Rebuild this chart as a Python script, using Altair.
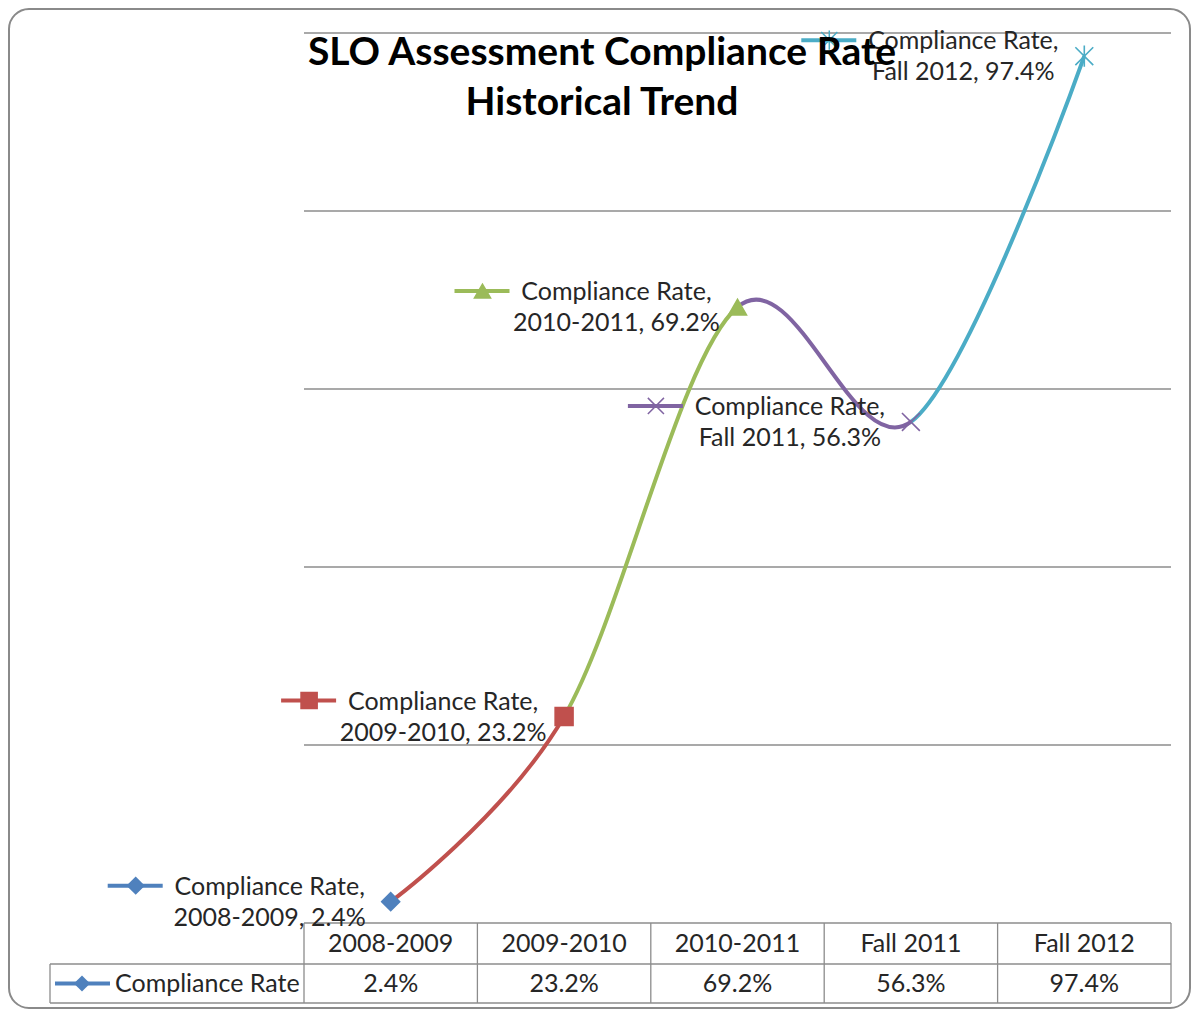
import altair as alt
import pandas as pd

# ---------------- data ----------------
categories = ["2008-2009", "2009-2010", "2010-2011", "Fall 2011", "Fall 2012"]
rates = [2.4, 23.2, 69.2, 56.3, 97.4]
series_name = "Compliance Rate"
point_colors = ["#4F81BD", "#C0504D", "#9BBB59", "#8064A2", "#4BACC6"]
X_PATH = "M-1,-1L1,1M-1,1L1,-1"
STAR_PATH = "M-1,-1L1,1M-1,1L1,-1M0,-1.2L0,1.2"
point_shapes = ["diamond", "square", "triangle-up", X_PATH, STAR_PATH]
y_ticks = [0, 20, 40, 60, 80, 100]
title_lines = ["SLO Assessment Compliance Rate", "Historical Trend"]

FONT = "Lato"
TXT = "#262626"
GRID = "#8c8c8c"
W, H = 867, 890
FS = 25
ROW1, ROW2 = 931, 970      # table row separators (plot-relative)

n = len(categories)
df = pd.DataFrame({"cat": categories, "idx": list(range(n)), "rate": rates})
df["label"] = [f"{series_name},\n{c}, {v:.1f}%" for c, v in zip(categories, rates)]
df["val"] = [f"{v:.1f}%" for v in rates]
bounds_df = pd.DataFrame({"b": [i - 0.5 for i in range(n + 1)]})
grid_df = pd.DataFrame({"t": y_ticks})
one = pd.DataFrame({"k": [0]})

xs = alt.Scale(domain=[-0.5, n - 0.5], nice=False, zero=False)
ys = alt.Scale(domain=[0, 100], nice=False, zero=False)
X = alt.X("idx:Q", scale=xs, axis=None)
Y = alt.Y("rate:Q", scale=ys, axis=None)
col = alt.Color("cat:N", scale=alt.Scale(domain=categories, range=point_colors), legend=None)
stk = alt.Stroke("cat:N", scale=alt.Scale(domain=categories, range=point_colors), legend=None)
shp = alt.Shape("cat:N", scale=alt.Scale(domain=categories, range=point_shapes), legend=None)

# chart-area frame
frame = alt.Chart(one).mark_rect(cornerRadius=20, fill="white", stroke="#8a8a8a", strokeWidth=2).encode(
    x=alt.value(-295), x2=alt.value(886), y=alt.value(-24), y2=alt.value(975))

# gridlines
grid = alt.Chart(grid_df).mark_rule(color=GRID, strokeWidth=1.3).encode(
    y=alt.Y("t:Q", scale=ys, axis=None), x=alt.value(0), x2=alt.value(W))

# table borders
vbord = alt.Chart(bounds_df).mark_rule(color=GRID, strokeWidth=1.3).encode(
    x=alt.X("b:Q", scale=xs, axis=None), y=alt.value(H), y2=alt.value(ROW2))
lbord = alt.Chart(one).mark_rule(color=GRID, strokeWidth=1.3).encode(
    x=alt.value(-254), y=alt.value(ROW1), y2=alt.value(ROW2))
hb1 = alt.Chart(one).mark_rule(color=GRID, strokeWidth=1.3).encode(
    x=alt.value(-254), x2=alt.value(W), y=alt.value(ROW1))
hb2 = alt.Chart(one).mark_rule(color=GRID, strokeWidth=1.3).encode(
    x=alt.value(-254), x2=alt.value(W), y=alt.value(ROW2))

# smoothed line coloured per segment (colour of the point the segment leads to)
stops = []
for i in range(1, n):
    stops.append(alt.GradientStop(color=point_colors[i], offset=(i - 1) / (n - 1)))
    stops.append(alt.GradientStop(color=point_colors[i], offset=i / (n - 1)))
grad = alt.Gradient(gradient="linear", stops=stops, x1=0, x2=1, y1=0, y2=0)
line = alt.Chart(df).mark_line(interpolate="cardinal", tension=0, strokeWidth=4, stroke=grad).encode(x=X, y=Y)

# markers
pts = alt.Chart(df).mark_point(filled=True, size=320, strokeWidth=1.6, opacity=1).encode(
    x=X, y=Y, color=col, stroke=stk, shape=shp)

# data-label legend keys
key_line = alt.Chart(df).mark_rule(strokeWidth=4, xOffset=-283, x2Offset=-228, yOffset=-16).encode(
    x=X, x2="idx:Q", y=Y, color=col)
key_pts = alt.Chart(df).mark_point(filled=True, size=260, strokeWidth=1.5, opacity=1, xOffset=-255, yOffset=-16).encode(
    x=X, y=Y, color=col, stroke=stk, shape=shp)

labels = alt.Chart(df).mark_text(font=FONT, fontSize=FS, color=TXT, align="center", baseline="middle",
                                 dx=-121, dy=-15, lineBreak="\n", lineHeight=31).encode(x=X, y=Y, text="label:N")

# data table
thead = alt.Chart(df).mark_text(font=FONT, fontSize=FS, color=TXT, align="center", baseline="middle").encode(
    x=X, y=alt.value((H + ROW1) / 2), text="cat:N")
tvals = alt.Chart(df).mark_text(font=FONT, fontSize=FS, color=TXT, align="center", baseline="middle").encode(
    x=X, y=alt.value((ROW1 + ROW2) / 2), text="val:N")
tname = alt.Chart(pd.DataFrame({"s": [series_name]})).mark_text(
    font=FONT, fontSize=FS, color=TXT, align="left", baseline="middle").encode(
    x=alt.value(-189), y=alt.value((ROW1 + ROW2) / 2), text="s:N")
tkey = alt.Chart(one).mark_rule(strokeWidth=4, color=point_colors[0]).encode(
    x=alt.value(-249), x2=alt.value(-194), y=alt.value((ROW1 + ROW2) / 2))
tkeypt = alt.Chart(one).mark_point(filled=True, size=260, shape=point_shapes[0], color=point_colors[0], opacity=1).encode(
    x=alt.value(-222), y=alt.value((ROW1 + ROW2) / 2))

title = alt.Chart(pd.DataFrame({"t": ["\n".join(title_lines)]})).mark_text(
    font=FONT, fontSize=39, fontWeight="bold", color="#000000", align="center", baseline="middle",
    lineBreak="\n", lineHeight=50).encode(x=alt.value(298), y=alt.value(20), text="t:N")

chart = alt.layer(
    frame, grid, vbord, lbord, hb1, hb2, line, key_line, key_pts, pts, labels,
    thead, tvals, tkey, tkeypt, tname, title
).properties(width=W, height=H, padding=0).configure_view(strokeWidth=0)

chart.save("out.html", embed_options={"renderer": "svg", "actions": False})
